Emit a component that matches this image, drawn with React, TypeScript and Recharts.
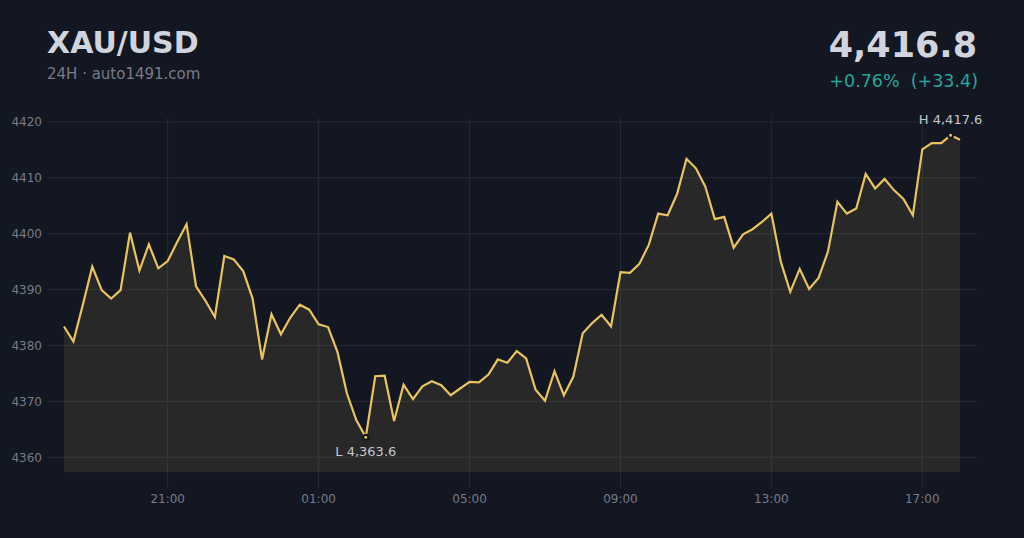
import React from "react";
import { Area, AreaChart, CartesianGrid, ReferenceDot, XAxis, YAxis } from "recharts";

const BG = "#131722";
const GOLD = "#e9c35f";
const GRID = "#262a35";
const MUTED = "#787b86";

// 15-minute closes, 18:15 -> 18:00 next day (hours past midnight of day 1)
const START_HOUR = 18.25;
const STEP_HOURS = 0.25;
const PRICES = [
  4383.4, 4380.7, 4387.3, 4394.1, 4389.9, 4388.4, 4389.9, 4400.2, 4393.4, 4398.1,
  4393.8, 4395.1, 4398.5, 4401.7, 4390.6, 4388.0, 4385.1, 4396.0, 4395.4, 4393.3,
  4388.4, 4377.5, 4385.6, 4382.0, 4385.0, 4387.3, 4386.4, 4383.8, 4383.3, 4378.8,
  4371.4, 4366.6, 4363.6, 4374.5, 4374.6, 4366.5, 4373.0, 4370.4, 4372.7, 4373.6,
  4372.9, 4371.1, 4372.3, 4373.5, 4373.4, 4374.8, 4377.5, 4376.9, 4379.0, 4377.7,
  4372.1, 4370.1, 4375.4, 4371.1, 4374.4, 4382.2, 4384.0, 4385.5, 4383.4, 4393.1,
  4393.0, 4394.6, 4398.0, 4403.6, 4403.3, 4407.1, 4413.4, 4411.7, 4408.4, 4402.6,
  4403.0, 4397.5, 4399.9, 4400.8, 4402.1, 4403.6, 4395.0, 4389.6, 4393.7, 4390.1,
  4392.1, 4396.8, 4405.7, 4403.6, 4404.5, 4410.7, 4408.1, 4409.8, 4407.8, 4406.2,
  4403.3, 4415.1, 4416.2, 4416.2, 4417.6, 4416.8,
];
const X_TICKS = [21, 25, 29, 33, 37, 41];
const Y_TICKS = [4360, 4370, 4380, 4390, 4400, 4410, 4420];

const rows = PRICES.map((p, i) => ({ t: START_HOUR + i * STEP_HOURS, price: p }));
const hi = rows.reduce((a, b) => (b.price > a.price ? b : a));
const lo = rows.reduce((a, b) => (b.price < a.price ? b : a));
const last = PRICES[PRICES.length - 1];
const change = last - PRICES[0];
const fmt = (v: number) => v.toLocaleString("en-US", { minimumFractionDigits: 1, maximumFractionDigits: 1 });
const hourLabel = (h: number) => `${String(h % 24).padStart(2, "0")}:00`;

export default function App() {
  return (
    <div
      style={{
        position: "fixed",
        left: 0,
        top: 0,
        width: 1024,
        height: 538,
        background: BG,
        fontFamily: "'DejaVu Sans', sans-serif",
      }}
    >
      <AreaChart width={1024} height={538} data={rows} margin={{ top: 118, right: 47, bottom: 20, left: 0 }}>
        <CartesianGrid stroke={GRID} strokeWidth={1} syncWithTicks />
        <XAxis
          dataKey="t"
          type="number"
          domain={[17.8, 42.45]}
          ticks={X_TICKS}
          tickFormatter={hourLabel}
          axisLine={false}
          tickLine={false}
          tickSize={0}
          tickMargin={6}
          height={30}
          tick={{ fill: MUTED, fontSize: 12 }}
          allowDataOverflow
        />
        <YAxis
          type="number"
          domain={[4354.5, 4420.7]}
          ticks={Y_TICKS}
          axisLine={false}
          tickLine={false}
          tickSize={0}
          tickMargin={5}
          width={47}
          tick={{ fill: MUTED, fontSize: 12 }}
          allowDataOverflow
        />
        <Area
          type="linear"
          dataKey="price"
          stroke={GOLD}
          strokeWidth={2.2}
          fill={GOLD}
          fillOpacity={0.1}
          baseValue={4357.3}
          dot={false}
          activeDot={false}
          isAnimationActive={false}
        />
        <ReferenceDot
          x={hi.t}
          y={hi.price}
          r={2.5}
          fill={GOLD}
          stroke={BG}
          strokeWidth={2}
          label={{ value: `H ${fmt(hi.price)}`, position: "top", offset: 9, fill: "#c3c6ce", fontSize: 13 }}
        />
        <ReferenceDot
          x={lo.t}
          y={lo.price}
          r={2.5}
          fill={GOLD}
          stroke={BG}
          strokeWidth={2}
          label={{ value: `L ${fmt(lo.price)}`, position: "bottom", offset: 7, fill: "#c3c6ce", fontSize: 13 }}
        />
      </AreaChart>
      <svg width={1024} height={538} style={{ position: "absolute", left: 0, top: 0, pointerEvents: "none" }}>
        <text x={47} y={53.3} fill="#d1d4dc" fontSize={30} fontWeight="bold">
          XAU/USD
        </text>
        <text x={47} y={79.3} fill={MUTED} fontSize={15}>
          24H · auto1491.com
        </text>
        <text x={977} y={57.3} fill="#d1d4dc" fontSize={35} fontWeight="bold" textAnchor="end">
          {fmt(last)}
        </text>
        <text x={978} y={86.7} fill="#26a69a" fontSize={17.5} textAnchor="end" style={{ whiteSpace: "pre" }}>
          {`+${((change / PRICES[0]) * 100).toFixed(2)}%  (+${change.toFixed(1)})`}
        </text>
      </svg>
    </div>
  );
}
